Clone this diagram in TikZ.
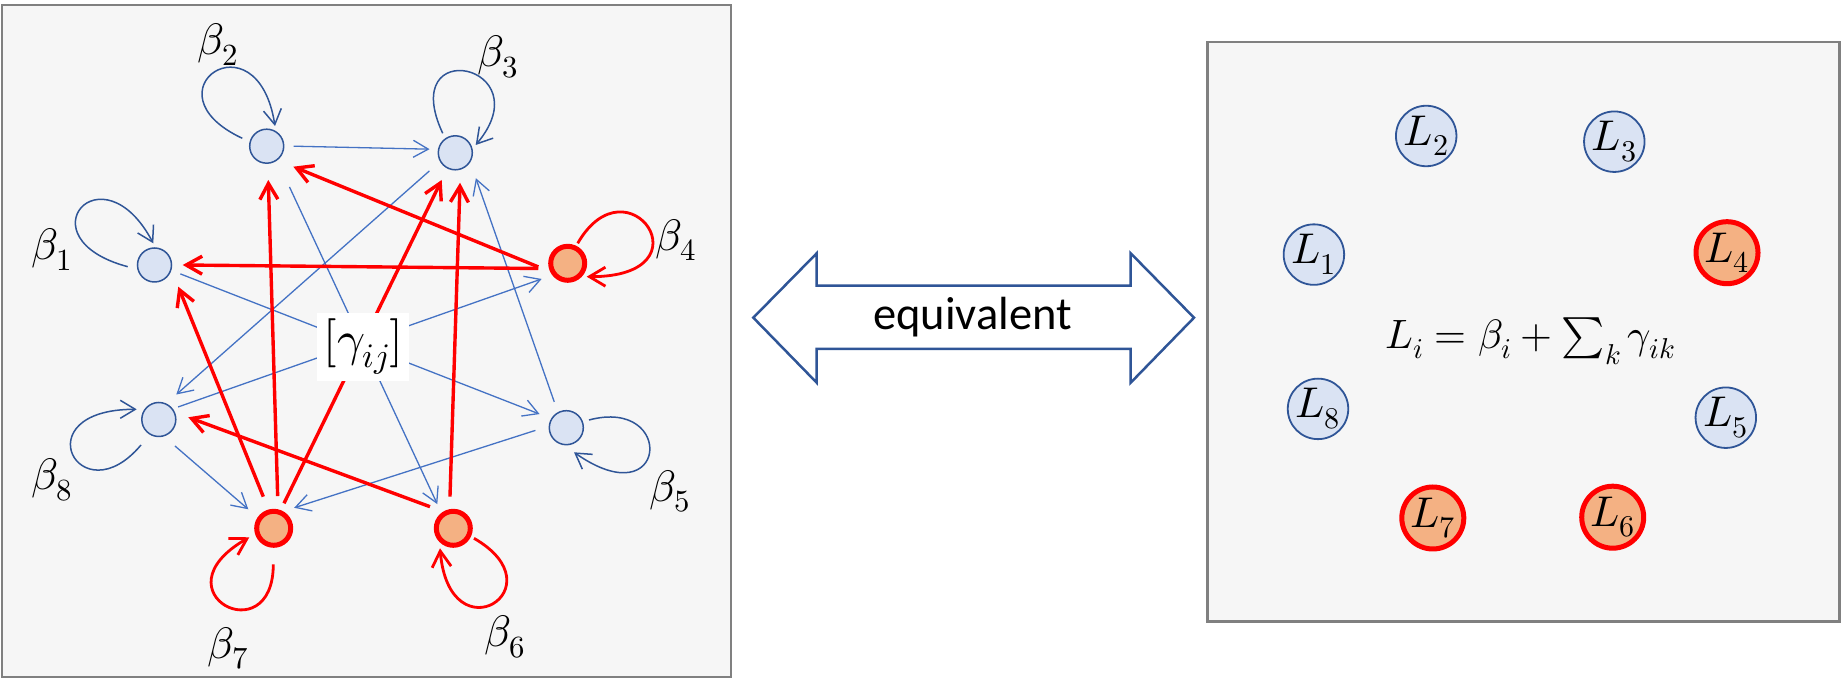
\documentclass[tikz,border=0pt]{standalone}
\usepackage{fontspec}
\usepackage{unicode-math}
\setmathfont{Latin Modern Math}
\newfontfamily\carlito{Carlito}
\usetikzlibrary{arrows.meta,calc}
\definecolor{nodeblue}{HTML}{DAE3F3}
\definecolor{darkblue}{HTML}{2F5597}
\definecolor{edgeblue}{HTML}{4472C4}
\definecolor{nodeorange}{HTML}{F4B183}
\definecolor{panelgray}{HTML}{F6F6F6}
\definecolor{framegray}{HTML}{808080}
\begin{document}
\begin{tikzpicture}[x=1pt,y=1pt,
  panel/.style={draw=framegray, fill=panelgray, line width=2.5pt},
  bnode/.style={circle, draw=darkblue, fill=nodeblue, line width=1.5pt, minimum size=34pt, inner sep=0pt},
  rnode/.style={circle, draw=red, fill=nodeorange, line width=5pt, minimum size=34pt, inner sep=0pt},
  bigb/.style={circle, draw=darkblue, fill=nodeblue, line width=1.8pt, minimum size=60.5pt, inner sep=0pt, font=\fontsize{43}{50}\selectfont},
  bigr/.style={circle, draw=red, fill=nodeorange, line width=5pt, minimum size=62pt, inner sep=0pt, font=\fontsize{43}{50}\selectfont},
  bedge/.style={draw=edgeblue, line width=1.3pt, -{Straight Barb[length=15pt,width=17pt]}},
  redge/.style={draw=red, line width=3.4pt, -{Straight Barb[length=16pt,width=18pt]}},
  bloop/.style={draw=darkblue, line width=1.5pt, -{Straight Barb[length=15pt,width=18pt]}},
  rloop/.style={draw=red, line width=2.8pt, -{Straight Barb[length=16pt,width=19pt]}},
  lab/.style={font=\fontsize{44}{52}\selectfont, inner sep=0pt}
]
\useasboundingbox (0,0) rectangle (1843,679);
% panels
\draw[panel] (2,2) rectangle (731,674);
\draw[panel] (1207.5,57.7) rectangle (1839.3,636.8);

% left graph nodes
\node[bnode] (n1) at (154.5,414) {};
\node[bnode] (n2) at (266.7,532.8) {};
\node[bnode] (n3) at (455.3,526.2) {};
\node[rnode] (n4) at (567.7,415.7) {};
\node[bnode] (n5) at (566.3,251.3) {};
\node[rnode] (n6) at (453.3,150.7) {};
\node[rnode] (n7) at (273.7,150.7) {};
\node[bnode] (n8) at (158.8,259.5) {};

% blue edges
\draw[bedge] ($(n2.center)+(0:27)$) -- ($(n3.center)+(172:26)$);
\draw[bedge] ($(n2.center)+(-60.8:46.7)$) -- ($(n6.center)+(123.5:29)$);
\draw[bedge] ($(n1.center)+(-19:27.3)$) -- ($(n5.center)+(153:30)$);
\draw[bedge] ($(n3.center)+(215:31.6)$) -- ($(n8.center)+(55:30.5)$);
\draw[bedge] ($(n5.center)+(115:28.5)$) -- ($(n3.center)+(-51:32.7)$);
\draw[bedge] ($(n8.center)+(33:23)$) -- ($(n4.center)+(211:30.4)$);
\draw[bedge] ($(n8.center)+(-58.6:31)$) -- ($(n7.center)+(143.2:31.7)$);
\draw[bedge] ($(n5.center)+(185:31)$) -- ($(n7.center)+(45:29)$);

% red edges
\draw[redge] ($(n4.center)+(190:29.9)$) -- ($(n1.center)+(0:28.2)$);
\draw[redge] ($(n4.center)+(187:29.6)$) -- ($(n2.center)+(-37.6:33.6)$);
\draw[redge] ($(n7.center)+(108.2:33.3)$) -- ($(n1.center)+(-42.4:32.2)$);
\draw[redge] ($(n7.center)+(83:32.5)$) -- ($(n2.center)+(-87.3:33.8)$);
\draw[redge] ($(n7.center)+(67.6:27)$) -- ($(n3.center)+(-116.6:30.4)$);
\draw[redge] ($(n6.center)+(96:31.8)$) -- ($(n3.center)+(-81:30.3)$);
\draw[redge] ($(n6.center)+(137.2:31.8)$) -- ($(n8.center)+(4.3:29.6)$);

% gamma label
\node[fill=white, inner sep=6pt, font=\fontsize{49}{58}\selectfont] (g) at (363,332) {$[\gamma_{ij}]$};

% self loops
\draw[bloop] ($(n2.center)+(-24.4,7.9)$) .. controls +(155:110) and +(99:115) .. ($(n2.center)+(8.3,20.2)$);
\draw[bloop] ($(n1.center)+(-26.8,-1.7)$) .. controls +(165:110) and +(118:110) .. ($(n1.center)+(-1.2,21.7)$);
\draw[bloop] ($(n3.center)+(-12.6,19.5)$) .. controls +(115:110) and +(50:105) .. ($(n3.center)+(20.4,7.8)$);
\draw[rloop] ($(n4.center)+(10,20)$) .. controls +(60:100) and +(0:125) .. ($(n4.center)+(19,-13.4)$);
\draw[bloop] ($(n5.center)+(22.7,7.7)$) .. controls +(15:90) and +(-35:115) .. ($(n5.center)+(7.7,-24.6)$);
\draw[bloop] ($(n8.center)+(-17.8,-25.5)$) .. controls +(230:95) and +(180:115) .. ($(n8.center)+(-22.1,10.2)$);
\draw[rloop] ($(n7.center)+(-0.4,-36)$) .. controls +(-90:90) and +(210:110) .. ($(n7.center)+(-24.4,-9)$);
\draw[rloop] ($(n6.center)+(20.7,-10)$) .. controls +(-30:100) and +(-85:110) .. ($(n6.center)+(-13.3,-20)$);

% beta labels
\node[lab] (b1) at (51.8,429.8) {$\beta_1$};
\node[lab] (b2) at (217.8,634.8) {$\beta_2$};
\node[lab] (b3) at (497.5,622.3) {$\beta_3$};
\node[lab] (b4) at (675.8,439) {$\beta_4$};
\node[lab] (b5) at (669.7,187.7) {$\beta_5$};
\node[lab] (b6) at (505,42.3) {$\beta_6$};
\node[lab] (b7) at (227.8,30.7) {$\beta_7$};
\node[lab] (b8) at (51.7,199) {$\beta_8$};

% equivalent double arrow
\draw[draw=darkblue, line width=2.5pt, fill=white, line join=miter]
  (753.3,361.3) -- (816.7,425.7) -- (816.7,393.3) -- (1130.7,393.3) -- (1130.7,425.7)
  -- (1194,361.3) -- (1130.7,296.3) -- (1130.7,330) -- (816.7,330) -- (816.7,296.3) -- cycle;
\node[font=\carlito\fontsize{46.5}{56}\selectfont, anchor=base, inner sep=0pt] (eq) at (972.4,349) {equivalent};

% right panel nodes
\node[bigb] (L1) at (1313.9,424.4) {$L_1$};
\node[bigb] (L2) at (1426.2,543) {$L_2$};
\node[bigb] (L3) at (1614.3,537.3) {$L_3$};
\node[bigr] (L4) at (1727,426.3) {$L_4$};
\node[bigb] (L5) at (1725.8,261.3) {$L_5$};
\node[bigr] (L6) at (1612.7,161.8) {$L_6$};
\node[bigr] (L7) at (1432.8,161) {$L_7$};
\node[bigb] (L8) at (1318,270.1) {$L_8$};
\node[font=\fontsize{41}{49}\selectfont, anchor=base, inner sep=0pt] (f) at (1530,330.7) {$L_i=\beta_i+\sum_k\gamma_{ik}$};
\end{tikzpicture}
\end{document}
